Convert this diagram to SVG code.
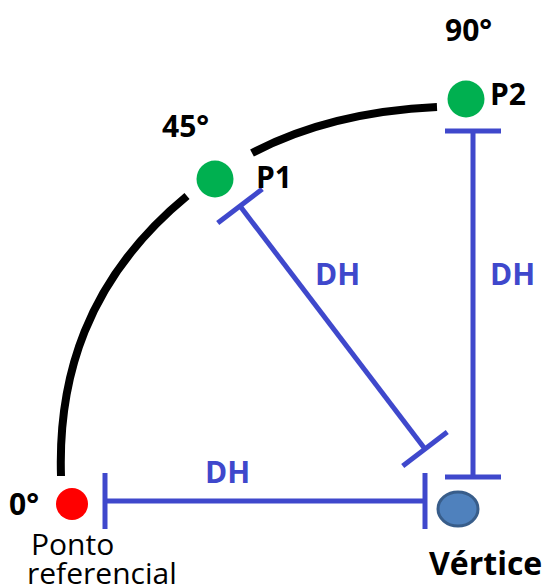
<svg xmlns="http://www.w3.org/2000/svg" width="547" height="588" viewBox="0 0 547 588">
  <style>
    .arc { fill: none; stroke: #000; stroke-width: 8; stroke-linecap: butt; }
    .dim { fill: none; stroke: #3f48cc; stroke-width: 5; marker-start: url(#tick); marker-end: url(#tick); }
    .tk { stroke: #3f48cc; stroke-width: 5; }
    .lbl { font-family: "Open Sans", "Liberation Sans", sans-serif; font-size: 30px; font-weight: bold; fill: #000; }
    .txt { font-family: "Open Sans", "Liberation Sans", sans-serif; font-size: 30px; fill: #000; }
    .dh { font-family: "Open Sans", "Liberation Sans", sans-serif; font-size: 30px; font-weight: bold; fill: #3f48cc; }
    .pt { fill: #00b050; }
  </style>
  <defs>
    <marker id="tick" markerUnits="userSpaceOnUse" markerWidth="10" markerHeight="60" refX="0" refY="28" orient="auto" overflow="visible">
      <line class="tk" x1="0" y1="0" x2="0" y2="56"/>
    </marker>
  </defs>
  <rect width="547" height="588" fill="#fff"/>
  <g id="connectors">
    <path class="arc" d="M61,476 C58,380 85,280 187,196"/>
    <path class="arc" d="M252,153 Q330,112 437,107"/>
    <path class="dim" d="M105,501 L425,501"/>
    <path class="dim" d="M473,131 L473,477"/>
    <path class="dim" d="M240,206 L425,449"/>
    <text class="dh" x="205" y="483">DH</text>
    <text class="dh" x="315" y="285">DH</text>
    <text class="dh" x="490" y="285">DH</text>
  </g>
  <g id="ref-point">
    <circle cx="72" cy="504" r="16" fill="#ff0000"/>
    <text class="lbl" x="9" y="515">0°</text>
    <text class="txt" x="31" y="555">Ponto</text>
    <text class="txt" x="27" y="584">referencial</text>
  </g>
  <g id="vertex">
    <ellipse cx="458" cy="509" rx="20" ry="17" fill="#4f81bd" stroke="#385d8a" stroke-width="3"/>
    <text class="lbl" x="429" y="575" style="font-size:32px">Vértice</text>
  </g>
  <g id="p1">
    <circle class="pt" cx="215" cy="179" r="18.5"/>
    <text class="lbl" x="162" y="137">45°</text>
    <text class="lbl" x="256" y="188">P1</text>
  </g>
  <g id="p2">
    <circle class="pt" cx="466" cy="99" r="18.5"/>
    <text class="lbl" x="445" y="41">90°</text>
    <text class="lbl" x="490" y="105">P2</text>
  </g>
</svg>
